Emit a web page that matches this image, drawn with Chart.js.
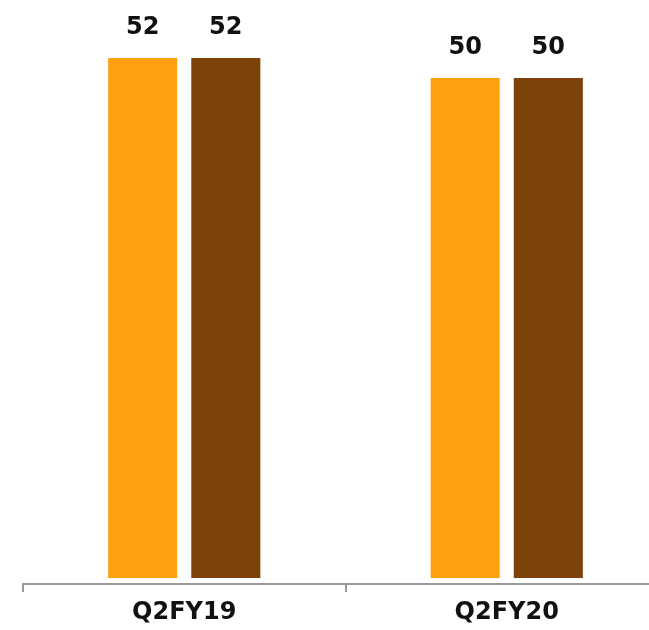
<!DOCTYPE html>
<html>
<head>
<meta charset="utf-8">
<script src="https://cdn.jsdelivr.net/npm/chart.js@4"></script>
<style>
html,body{margin:0;padding:0;background:#fff;overflow:hidden;}
#wrap{position:relative;width:668px;height:630px;}
</style>
</head>
<body>
<div id="wrap"><canvas id="c"></canvas></div>
<script>
const categories = ["Q2FY19", "Q2FY20"];
const seriesA = [52, 50];
const seriesB = [52, 50];
const colorA = "#FFA010";
const colorB = "#7E430A";

const labelPlugin = {
  id: "valueLabels",
  afterDatasetsDraw(chart) {
    const ctx = chart.ctx;
    ctx.save();
    ctx.font = "bold 24px 'DejaVu Sans'";
    ctx.fillStyle = "#111";
    ctx.textAlign = "center";
    ctx.textBaseline = "alphabetic";
    chart.data.datasets.forEach((ds, i) => {
      chart.getDatasetMeta(i).data.forEach((bar, j) => {
        ctx.fillText(String(ds.data[j]), bar.x, bar.y - 24);
      });
    });
    ctx.restore();
  }
};

new Chart(document.getElementById("c"), {
  type: "bar",
  data: {
    labels: categories,
    datasets: [
      { data: seriesA, backgroundColor: colorA, borderWidth: 0 },
      { data: seriesB, backgroundColor: colorB, borderWidth: 0 }
    ]
  },
  options: {
    responsive: true,
    maintainAspectRatio: false,
    animation: false,
    layout: { padding: { left: 23, right: 0, top: 0, bottom: 0 } },
    plugins: { legend: { display: false }, tooltip: { enabled: false } },
    datasets: { bar: { categoryPercentage: 0.5155, barPercentage: 0.831 } },
    scales: {
      x: {
        offset: true,
        grid: { display: true, drawOnChartArea: false, drawTicks: true, tickLength: 8, color: "#999999", lineWidth: 2, offset: true },
        border: { display: true, color: "#999999", width: 2 },
        ticks: { color: "#111", font: { family: "'DejaVu Sans'", size: 24, weight: "bold" }, padding: 6 },
        afterFit(scale) { scale.height = 46; }
      },
      y: {
        display: false,
        min: -0.6,
        max: 57.8
      }
    }
  },
  plugins: [labelPlugin]
});
</script>
</body>
</html>
